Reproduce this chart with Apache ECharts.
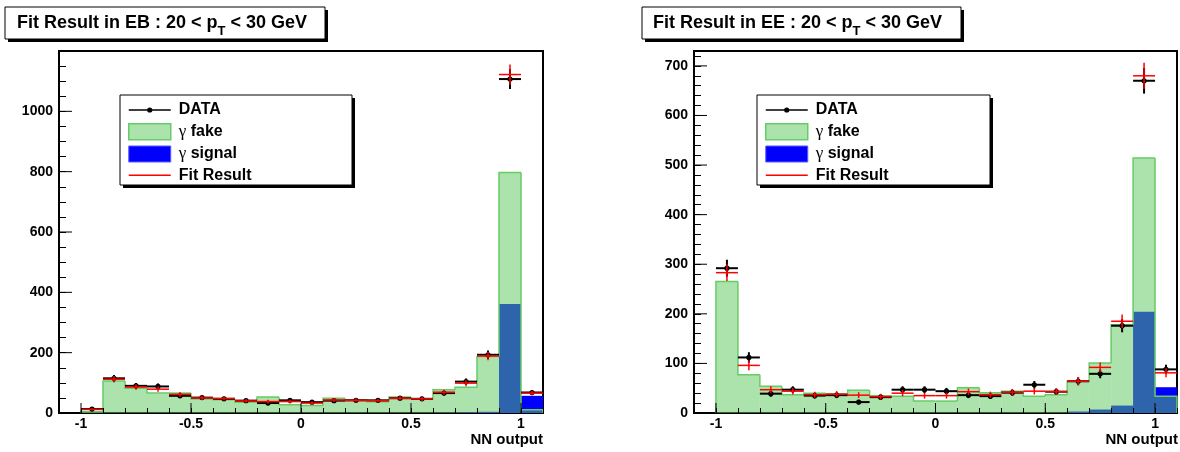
<!DOCTYPE html>
<html><head><meta charset="utf-8">
<script src="https://cdn.jsdelivr.net/npm/echarts@6/dist/echarts.min.js"></script>
<style>html,body{margin:0;padding:0;background:#fff}#c{width:1180px;height:452px}</style>
</head><body><div id="c"></div>
<script>
// ---------- data ----------
const binCenters = [-0.95,-0.85,-0.75,-0.65,-0.55,-0.45,-0.35,-0.25,-0.15,-0.05,0.05,0.15,0.25,0.35,0.45,0.55,0.65,0.75,0.85,0.95,1.05];
const BIN_W = 0.1;

const ebData   = [13,115,90,88,57,51,47,41,33,42,36,41,42,42,49,47,66,104,193,1107,68];
const ebFit    = [12,112,86,79,62,50,48,40,38,38,33,43,42,41,49,47,69,99,189,1122,66];
const ebFake   = [4,106,82,66,66,46,44,36,53,27,25,49,44,37,53,47,77,85,187,797,11];
const ebSignal = [0,0,0,0,0,0,0,0,0,0,0,0,0,0,0,0,1,2,4,361,57];

const eeData   = [292,112,39,47,35,36,22,32,47,47,44,36,34,41,57,43,64,79,176,670,88];
const eeFit    = [283,96,47,44,37,38,36,33,40,35,35,43,37,42,44,43,64,92,185,680,81];
const eeFake   = [265,77,54,37,40,39,46,35,34,24,24,51,41,44,34,37,64,101,178,514,34];
const eeSignal = [0,0,0,0,0,0,0,0,0,0,0,0,0,0,0,0,3,7,15,204,52];

const xMajorTicks = [-1,-0.5,0,0.5,1];
const ebYMajorTicks = [0,200,400,600,800,1000];
const eeYMajorTicks = [0,100,200,300,400,500,600,700];

const legendNames = ['DATA','γ fake','γ signal','Fit Result'];
const titleEB = ['Fit Result in EB : 20 < p','T',' < 30 GeV'];
const titleEE = ['Fit Result in EE : 20 < p','T',' < 30 GeV'];
const xAxisTitle = 'NN output';

// ---------- styles ----------
const FONT = 'Liberation Sans';
const X_MIN = -1.1, X_MAX = 1.1;
const FAKE_FILL = 'rgba(90,200,90,0.5)';

function histFill(fill){
  return function(params, api){
    const c=api.value(0), v=api.value(1);
    if(!(v>0)) return;
    const p0=api.coord([c-BIN_W/2,0]), p1=api.coord([c+BIN_W/2,v]);
    return {type:'rect', shape:{x:p0[0], y:p1[1], width:p1[0]-p0[0], height:p0[1]-p1[1]}, style:{fill:fill}};
  };
}
function histStep(color, lw){
  return function(params, api){
    const c=api.value(0), v=api.value(1), pv=api.value(2), last=api.value(3);
    const pl=api.coord([c-BIN_W/2,pv]), a=api.coord([c-BIN_W/2,v]), b=api.coord([c+BIN_W/2,v]);
    const pts=[[a[0],pl[1]],a,b];
    if(last) pts.push(api.coord([c+BIN_W/2,0]));
    return {type:'polyline', shape:{points:pts}, style:{stroke:color, fill:null, lineWidth:lw}};
  };
}
function errPoints(color, lw, marker){
  return function(params, api){
    const c=api.value(0), v=api.value(1), e=api.value(2);
    const l=api.coord([c-BIN_W/2,v]), r=api.coord([c+BIN_W/2,v]);
    const t=api.coord([c,v+e]), bo=api.coord([c,Math.max(0,v-e)]);
    const ch=[
      {type:'line', shape:{x1:l[0],y1:l[1],x2:r[0],y2:r[1]}, style:{stroke:color,lineWidth:lw}},
      {type:'line', shape:{x1:t[0],y1:t[1],x2:bo[0],y2:bo[1]}, style:{stroke:color,lineWidth:lw}}
    ];
    if(marker) ch.push({type:'circle', shape:{cx:(l[0]+r[0])/2, cy:l[1], r:marker}, style:{fill:color}});
    return {type:'group', children:ch};
  };
}
function xMajor(params, api){
  const p=api.coord([api.value(0),0]);
  return {type:'line', shape:{x1:p[0],y1:p[1],x2:p[0],y2:p[1]-10}, style:{stroke:'#000',lineWidth:1}};
}
function yMajor(params, api){
  const p=api.coord([X_MIN,api.value(1)]);
  return {type:'line', shape:{x1:p[0],y1:p[1],x2:p[0]+13,y2:p[1]}, style:{stroke:'#000',lineWidth:1}};
}

function chartSeries(idx, data, fit, fake, sig, yTicks){
  const ax={xAxisIndex:idx, yAxisIndex:idx};
  return [
    Object.assign({type:'custom', name:'γ signal', renderItem:histFill('#0000ff'), data:sig.map((v,k)=>[binCenters[k],v]), z:2, silent:true}, ax),
    Object.assign({type:'custom', name:'γ fake', renderItem:histFill(FAKE_FILL), data:fake.map((v,k)=>[binCenters[k],v]), z:2, silent:true}, ax),
    Object.assign({type:'custom', name:'fakeOutline', renderItem:histStep('#66cc66',1.5), data:fake.map((v,k)=>[binCenters[k],v,k>0?fake[k-1]:0,k===fake.length-1?1:0]), z:2, silent:true}, ax),
    Object.assign({type:'custom', name:'DATA', renderItem:errPoints('#000',2,2.6), data:data.map((v,k)=>[binCenters[k],v,Math.sqrt(v)]), z:3, silent:true}, ax),
    Object.assign({type:'custom', name:'Fit Result', itemStyle:{color:'#ff0000'}, renderItem:errPoints('#ff0000',1.5,0), data:fit.map((v,k)=>[binCenters[k],v,Math.sqrt(v)]), z:4, silent:true}, ax),
    Object.assign({type:'custom', name:'xMajor', renderItem:xMajor, data:xMajorTicks.map(v=>[v,0]), z:5, silent:true}, ax),
    Object.assign({type:'custom', name:'yMajor', renderItem:yMajor, data:yTicks.map(v=>[X_MIN,v]), z:5, silent:true}, ax)
  ];
}

function xAxisOpt(g){
  return {type:'value', gridIndex:g, min:X_MIN, max:X_MAX, interval:0.1, z:10,
    axisLine:{show:false, onZero:false}, splitLine:{show:false},
    axisTick:{show:true, inside:true, length:5, lineStyle:{color:'#000',width:1}},
    axisLabel:{margin:4, color:'#000', fontFamily:FONT, fontWeight:'bold', fontSize:14,
      formatter:function(v){ if(Math.abs(v*2-Math.round(v*2))<1e-6 && Math.abs(v)<=1.0001) return String(Math.round(v*10)/10); return ''; }}};
}
function yAxisOpt(g, max, minor, major){
  return {type:'value', gridIndex:g, min:0, max:max, interval:minor, z:10, position:'left',
    axisLine:{show:false, onZero:false}, splitLine:{show:false},
    axisTick:{show:true, inside:true, length:7, lineStyle:{color:'#000',width:1}},
    axisLabel:{margin:6, color:'#000', fontFamily:FONT, fontWeight:'bold', fontSize:14, showMaxLabel:false,
      formatter:function(v){ return (Math.abs(v%major)<1e-6 && v<max)? String(v):''; }}};
}

const dataIcon = 'path://M0,0L0,0ZM42,16L42,16ZM0,7.2h42v1.6h-42ZM18.4,8a2.6,2.6 0 1,1 5.2,0a2.6,2.6 0 1,1 -5.2,0Z';
const fitIcon = 'path://M0,0L0,0ZM42,16L42,16ZM0,7h42v1.5h-42Z';
function legendOpt(left){
  return {left:left, top:102, padding:0, orient:'vertical', itemWidth:42, itemHeight:16, itemGap:5, z:20, selectedMode:false,
    data:[
      {name:legendNames[0], icon:dataIcon, itemStyle:{color:'#000', borderWidth:0}},
      {name:legendNames[1], icon:'rect', itemStyle:{color:FAKE_FILL, borderColor:'#66cc66', borderWidth:1.5}},
      {name:legendNames[2], icon:'rect', itemStyle:{color:'#0000ff', borderColor:'#5b5bff', borderWidth:1}},
      {name:legendNames[3], icon:fitIcon, itemStyle:{color:'#ff0000', borderColor:'#ff0000', borderWidth:0}}
    ],
    formatter:function(n){ return n.indexOf('γ')===0 ? '{g|γ}{b| '+n.slice(2)+'}' : '{b|'+n+'}'; },
    textStyle:{color:'#000', fontSize:16, lineHeight:16, padding:[0,0,0,3],
      rich:{g:{fontFamily:'Liberation Serif', fontSize:17, lineHeight:16, color:'#000'}, b:{fontFamily:FONT, fontWeight:'bold', fontSize:16, lineHeight:16, color:'#000'}}}
  };
}
function box(x,y,w,h,z){
  return [
    {type:'rect', z:z, shape:{x:x+3,y:y+3,width:w,height:h}, style:{fill:'#000'}},
    {type:'rect', z:z, shape:{x:x,y:y,width:w,height:h}, style:{fill:'#fff', stroke:'#000', lineWidth:1}}
  ];
}
function titleText(x,y,t){
  return {type:'text', z:16, x:x, y:y, style:{text:'{a|'+t[0]+'}{s|'+t[1]+'}{a|'+t[2]+'}', verticalAlign:'middle',
    rich:{a:{fontFamily:FONT, fontWeight:'bold', fontSize:18, lineHeight:30, fill:'#000'},
          s:{fontFamily:FONT, fontWeight:'bold', fontSize:13, lineHeight:16, verticalAlign:'bottom', fill:'#000'}}}};
}
function axisName(x,y){
  return {type:'text', z:16, x:x, y:y, style:{text:xAxisTitle, align:'right', verticalAlign:'middle', font:'bold 15px "'+FONT+'"', fill:'#000'}};
}

const chart = echarts.init(document.getElementById('c'), null, {renderer:'canvas'});
chart.setOption({
  animation:false,
  backgroundColor:'#fff',
  grid:[
    {left:59, top:51, width:484, height:362, show:true, borderColor:'#000', borderWidth:2, backgroundColor:'transparent'},
    {left:694, top:51, width:484, height:362, show:true, borderColor:'#000', borderWidth:2, backgroundColor:'transparent'}
  ],
  xAxis:[xAxisOpt(0), xAxisOpt(1)],
  yAxis:[yAxisOpt(0,1200,50,200), yAxisOpt(1,730,20,100)],
  legend:[legendOpt(128), legendOpt(765)],
  series:[].concat(chartSeries(0, ebData, ebFit, ebFake, ebSignal, ebYMajorTicks),
                   chartSeries(1, eeData, eeFit, eeFake, eeSignal, eeYMajorTicks)),
  graphic:[].concat(
    box(5,7,320,32,15), box(642,7,319,32,15),
    box(120,95,232,90,15), box(757,95,233,90,15),
    [titleText(17,23,titleEB), titleText(653,23,titleEE), axisName(543,440), axisName(1178,440)]
  )
});
</script></body></html>
